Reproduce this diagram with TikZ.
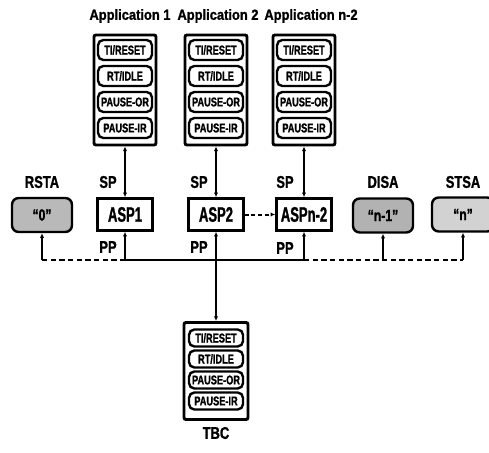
\documentclass[tikz,border=0pt]{standalone}
\usepackage{fontspec}
\usepackage{graphicx}
\setmainfont{Liberation Sans}
\newfontfamily\fTitle{Liberation Sans}[FakeStretch=0.88, FakeBold=1.2]
\newfontfamily\fIn{Liberation Sans}[FakeStretch=0.72, FakeBold=1.2]
\newfontfamily\fAsp{Liberation Sans}[FakeStretch=0.62, FakeBold=1.2]
\newfontfamily\fLab{Liberation Sans}[FakeStretch=0.76, FakeBold=1.2]
\usetikzlibrary{arrows.meta}
\tikzset{
  outerbox/.style={draw, line width=2.2pt, rounded corners=1.5pt, minimum width=46.5pt, inner sep=0pt},
  inbox/.style={draw, line width=1.8pt, rounded corners=4pt, minimum width=40.5pt, inner sep=0pt,
                font=\fIn\bfseries\fontsize{9.6pt}{9.6pt}\selectfont},
  aspbox/.style={draw, line width=1.9pt, minimum width=41.25pt, minimum height=24pt, inner sep=0pt,
                 font=\fAsp\bfseries\fontsize{15.75pt}{15.75pt}\selectfont},
  shbox/.style={draw, line width=1.8pt, rounded corners=5pt, minimum width=45pt, minimum height=25.5pt,
                inner sep=0pt, font=\fLab\bfseries\fontsize{12pt}{12pt}\selectfont},
  lab/.style={inner sep=0pt, font=\fLab\bfseries\fontsize{12.75pt}{12.75pt}\selectfont},
  ttl/.style={inner sep=0pt, font=\fTitle\bfseries\fontsize{11pt}{11pt}\selectfont},
  conn/.style={line width=1.5pt},
  tip/.style={-{Latex[length=3.5pt,width=3.2pt]}},
  dtip/.style={{Latex[length=3.5pt,width=3.2pt]}-{Latex[length=3.5pt,width=3.2pt]}},
  bus/.style={line width=1.5pt, dash pattern=on 4pt off 2.5pt},
}
\newcommand\appstack[5]{%
  \foreach \t [count=\i] in {{TI/RESET},{RT/IDLE},{PAUSE-OR},{PAUSE-IR}}
    \node[inbox, minimum height=#5] (#1-\i) at (#2,{#3+#4*(\i-1)}) {\t};}
\begin{document}
\begin{tikzpicture}[x=0.75pt, y=-0.75pt]
\useasboundingbox (0,0) rectangle (489,453);
% titles
\node[ttl] (t1) at (130,16) {Application 1};
\node[ttl] (t2) at (218,16) {Application 2};
\node[ttl] (t3) at (311,16) {Application n-2};
% application stacks
\node[outerbox, minimum height=82.5pt] (a1) at (125,90) {};
\node[outerbox, minimum height=82.5pt] (a2) at (216,90) {};
\node[outerbox, minimum height=82.5pt] (a3) at (304,90) {};
\appstack{a1}{125}{50}{26}{15pt}
\appstack{a2}{216}{50}{26}{15pt}
\appstack{a3}{304}{50}{26}{15pt}
% ASP boxes
\node[aspbox] (asp1) at (125,214.5) {ASP1};
\node[aspbox] (asp2) at (216,214.5) {ASP2};
\node[aspbox] (asp3) at (304,214.5) {ASPn-2};
% shaded stations
\node[shbox, fill=gray!55] (rsta) at (42,215) {“0”};
\node[shbox, fill=gray!60] (disa) at (383,215.5) {“n-1”};
\node[shbox, fill=gray!35, minimum width=46.5pt] (stsa) at (463,214.5) {“n”};
\node[lab] (lrsta) at (42,182) {RSTA};
\node[lab] (ldisa) at (383,182) {DISA};
\node[lab] (lstsa) at (463,182) {STSA};
% SP / PP labels
\node[lab] (sp1) at (108,182) {SP};
\node[lab] (sp2) at (199,182) {SP};
\node[lab] (sp3) at (285,182) {SP};
\node[lab] (pp1) at (108,247) {PP};
\node[lab] (pp2) at (199,247) {PP};
\node[lab] (pp3) at (285,248) {PP};
% TBC
\node[outerbox, minimum width=48pt, minimum height=72.75pt] (tbc) at (216,371) {};
\appstack{b}{216}{338}{21}{12.75pt}
\node[lab] (ltbc) at (216,433) {TBC};
% bus coordinates
\coordinate (bR) at (42,260);
\coordinate (b1) at (125,260);
\coordinate (b3) at (304,260);
\coordinate (bD) at (383,260);
\coordinate (bS) at (463,260);
% connectors
\draw[conn, dtip] (a1.south) -- (asp1.north);
\draw[conn, dtip] (a2.south) -- (asp2.north);
\draw[conn, dtip] (a3.south) -- (asp3.north);
\draw[conn, tip] (b1) -- (asp1.south);
\draw[conn, tip] (b3) -- (asp3.south);
\draw[conn, dtip] (asp2.south) -- (tbc.north);
\draw[conn] (b1) -- (b3);
\draw[bus] (bR) -- (b1);
\draw[bus] (b3) -- (bS);
\draw[conn, tip] (bR) -- (rsta.south);
\draw[conn, tip] (bD) -- (disa.south);
\draw[conn, tip] (bS) -- (stsa.south);
\draw[conn, dash pattern=on 3pt off 2pt, tip] (asp2.east) -- (asp3.west);
\end{tikzpicture}
\end{document}
